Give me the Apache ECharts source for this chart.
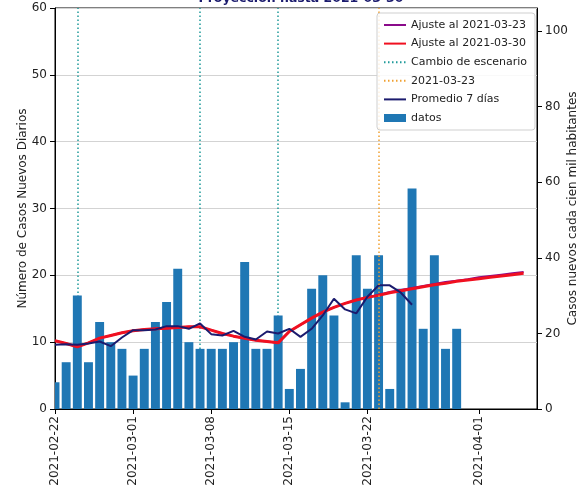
<!DOCTYPE html>
<html>
<head>
<meta charset="utf-8">
<script src="https://cdn.jsdelivr.net/npm/echarts@6/dist/echarts.min.js"></script>
<style>
  html, body { margin: 0; padding: 0; background: #fff; }
  #chart { width: 578px; height: 489px; }
</style>
</head>
<body>
<div id="chart"></div>
<script>
// ---- data ----
const startDate = '2021-02-22';
const endDate = '2021-04-06';
const barDates = ['2021-02-22','2021-02-23','2021-02-24','2021-02-25','2021-02-26','2021-02-27','2021-02-28',
  '2021-03-01','2021-03-02','2021-03-03','2021-03-04','2021-03-05','2021-03-06','2021-03-07',
  '2021-03-08','2021-03-09','2021-03-10','2021-03-11','2021-03-12','2021-03-13','2021-03-14',
  '2021-03-15','2021-03-16','2021-03-17','2021-03-18','2021-03-19','2021-03-20','2021-03-21',
  '2021-03-22','2021-03-23','2021-03-24','2021-03-25','2021-03-26','2021-03-27','2021-03-28',
  '2021-03-29','2021-03-30'];
const datos = [4,7,17,7,13,10,9, 5,9,13,16,21,10,9, 9,9,10,22,9,9,14, 3,6,18,20,14,1,23, 18,23,3,18,33,12,23, 9,12];
const promedio7 = [9.6,9.7,9.6,9.8,10.1,9.4,10.7, 11.8,11.8,11.9,12.4,12.4,12.0,12.8, 11.2,11.0,11.7,10.8,10.4,11.6,11.3,
  12.0,10.8,12.0,14.0,16.5,14.9,14.3, 16.8,18.5,18.5,17.4,15.6];
const ajuste30 = [10.2,9.8,9.3,9.9,10.6,11.0,11.4, 11.7,11.9,12.0,12.1,12.2,12.3,12.3, 11.8,11.3,10.9,10.6,10.3,10.1,9.9,
  11.6,12.6,13.6,14.5,15.2,15.8,16.3, 16.7,17.0,17.4,17.7,18.0,18.3,18.6, 18.8,19.1,19.3,19.5,19.7,19.9,20.1, 20.3];
const ajuste23 = [10.2,9.8,9.3,9.9,10.6,11.0,11.4, 11.7,11.9,12.0,12.1,12.2,12.3,12.3, 11.8,11.3,10.9,10.6,10.3,10.1,9.9,
  11.6,12.6,13.6,14.5,15.2,15.8,16.3, 16.7,17.1,17.5,17.8,18.1,18.4,18.7, 19.0,19.2,19.4,19.7,19.9,20.1,20.3, 20.5];
const cambioEscenario = ['2021-02-24','2021-03-07','2021-03-14'];
const fechaCorte = ['2021-03-23'];
const xTickLabels = ['2021-02-22','2021-03-01','2021-03-08','2021-03-15','2021-03-22','2021-04-01'];
const yLeftTicks = [0,10,20,30,40,50,60];
const yRightTicks = [0,20,40,60,80,100];
const casosPorCienMil = 1.768; // ratio right/left axis

// ---- helpers ----
const DAY = 86400000;
const t0 = Date.parse(startDate);
const dayIdx = d => (Date.parse(d) - t0) / DAY;
const FONT = 'DejaVu Sans';
const TXT = '#222';
const FS = 12;
const FSL = 11;

const barData = barDates.map((d, i) => [dayIdx(d), datos[i]]);
const seriesByDay = arr => arr.map((v, i) => [dayIdx(barDates[0]) + i, v]);
const tickMap = {};
xTickLabels.forEach(s => { tickMap[dayIdx(s)] = s; });
const noSym = { color: 'rgba(0,0,0,0)', borderColor: 'rgba(0,0,0,0)', borderWidth: 0, opacity: 0 };

const chart = echarts.init(document.getElementById('chart'), null, { renderer: 'canvas' });
chart.setOption({
  animation: false,
  backgroundColor: '#fff',
  textStyle: { fontFamily: FONT },
  title: {
    text: 'Proyección hasta 2021-03-30',
    left: 296, top: -13, textAlign: 'center',
    textStyle: { color: '#1b1b6e', fontWeight: 'bold', fontSize: 12.5, fontFamily: FONT }
  },
  grid: { left: 55, right: 41, top: 8, bottom: 80, containLabel: false, outerBoundsMode: 'none',
          show: true, borderColor: '#000', borderWidth: 1, backgroundColor: 'transparent' },
  legend: {
    orient: 'vertical', left: 377, top: 13, z: 20,
    padding: [5, 8, 5, 6],
    backgroundColor: 'rgba(255,255,255,0.85)', borderColor: '#cfcfcf', borderWidth: 1, borderRadius: 3,
    itemWidth: 22, itemHeight: 8, itemGap: 4.6,
    textStyle: { fontSize: FSL, color: TXT, fontFamily: FONT, lineHeight: 14 },
    data: [
      { name: 'Ajuste al 2021-03-23', itemStyle: noSym },
      { name: 'Ajuste al 2021-03-30', itemStyle: noSym },
      { name: 'Cambio de escenario', itemStyle: noSym },
      { name: '2021-03-23', itemStyle: noSym },
      { name: 'Promedio 7 días', itemStyle: noSym },
      { name: 'datos', icon: 'rect', itemStyle: { color: '#1f77b4' } }
    ]
  },
  xAxis: {
    type: 'value',
    min: 0, max: dayIdx(endDate) + 0.2,
    axisLine: { show: true, lineStyle: { color: '#000', width: 1 } },
    axisTick: { show: true, length: 5, lineStyle: { color: '#000' }, customValues: xTickLabels.map(dayIdx) },
    axisLabel: {
      customValues: xTickLabels.map(dayIdx),
      rotate: 90, margin: 7, fontSize: FS, color: TXT, fontFamily: FONT,
      formatter: v => tickMap[v] || ''
    },
    splitLine: { show: false }
  },
  yAxis: [
    {
      type: 'value', min: 0, max: 60, interval: 10, position: 'left',
      name: 'Número de Casos Nuevos Diarios', nameLocation: 'middle', nameRotate: 90, nameGap: 26,
      nameMoveOverlap: false,
      nameTextStyle: { fontSize: FS, color: TXT, fontFamily: FONT },
      axisLine: { show: true, lineStyle: { color: '#000', width: 1 } },
      axisTick: { show: true, length: 5, lineStyle: { color: '#000' } },
      axisLabel: { fontSize: FS, color: TXT, fontFamily: FONT, margin: 8, customValues: yLeftTicks },
      splitLine: { show: true, lineStyle: { color: '#d3d3d3', width: 1 } }
    },
    {
      type: 'value', min: 0, max: 60 * casosPorCienMil, position: 'right',
      name: 'Casos nuevos cada cien mil habitantes', nameLocation: 'middle', nameRotate: 90, nameGap: 30,
      nameMoveOverlap: false,
      nameTextStyle: { fontSize: FS, color: TXT, fontFamily: FONT },
      axisLine: { show: true, lineStyle: { color: '#000', width: 1 } },
      axisTick: { show: true, length: 5, lineStyle: { color: '#000' }, customValues: yRightTicks },
      axisLabel: { fontSize: FS, color: TXT, fontFamily: FONT, margin: 8, customValues: yRightTicks },
      splitLine: { show: false }
    }
  ],
  series: [
    {
      name: 'Cambio de escenario', type: 'line', data: [], z: 1, symbol: 'none',
      lineStyle: { color: '#1f9a9a', width: 1.5, type: [1.5, 2.5] },
      itemStyle: { color: '#1f9a9a' },
      markLine: {
        silent: true, z: 1, symbol: ['none', 'none'], label: { show: false },
        lineStyle: { color: '#1f9a9a', width: 1.5, type: [1.5, 2.5] },
        data: cambioEscenario.map(d => ({ xAxis: dayIdx(d) }))
      }
    },
    {
      name: 'datos', type: 'custom', data: barData, z: 2,
      itemStyle: { color: '#1f77b4' },
      encode: { x: 0, y: 1 },
      renderItem: function (params, api) {
        const x = api.value(0), y = api.value(1);
        const base = api.coord([x, 0]);
        const top = api.coord([x, y]);
        const w = api.size([0.8, 0])[0];
        const cs = params.coordSys;
        const rect = echarts.graphic.clipRectByRect(
          { x: base[0] - w / 2, y: top[1], width: w, height: base[1] - top[1] },
          { x: cs.x, y: cs.y, width: cs.width, height: cs.height });
        return rect && { type: 'rect', shape: rect, style: { fill: '#1f77b4' } };
      }
    },
    {
      name: 'Ajuste al 2021-03-23', type: 'line', data: seriesByDay(ajuste23), z: 3, symbol: 'none', showSymbol: false,
      lineStyle: { color: '#8a0a8a', width: 2 }, itemStyle: { color: '#8a0a8a' }
    },
    {
      name: 'Ajuste al 2021-03-30', type: 'line', data: seriesByDay(ajuste30), z: 4, symbol: 'none', showSymbol: false,
      lineStyle: { color: '#f01020', width: 3 }, itemStyle: { color: '#f01020' }
    },
    {
      name: 'Promedio 7 días', type: 'line', data: seriesByDay(promedio7), z: 5, symbol: 'none', showSymbol: false,
      lineStyle: { color: '#1b1b6e', width: 2 }, itemStyle: { color: '#1b1b6e' }
    },
    {
      name: '2021-03-23', type: 'line', data: [], z: 6, symbol: 'none',
      lineStyle: { color: '#f0a030', width: 1.5, type: [1.5, 2.5] },
      itemStyle: { color: '#f0a030' },
      markLine: {
        silent: true, z: 6, symbol: ['none', 'none'], label: { show: false },
        lineStyle: { color: '#f0a030', width: 1.5, type: [1.5, 2.5] },
        data: fechaCorte.map(d => ({ xAxis: dayIdx(d) }))
      }
    }
  ]
});
</script>
</body>
</html>
